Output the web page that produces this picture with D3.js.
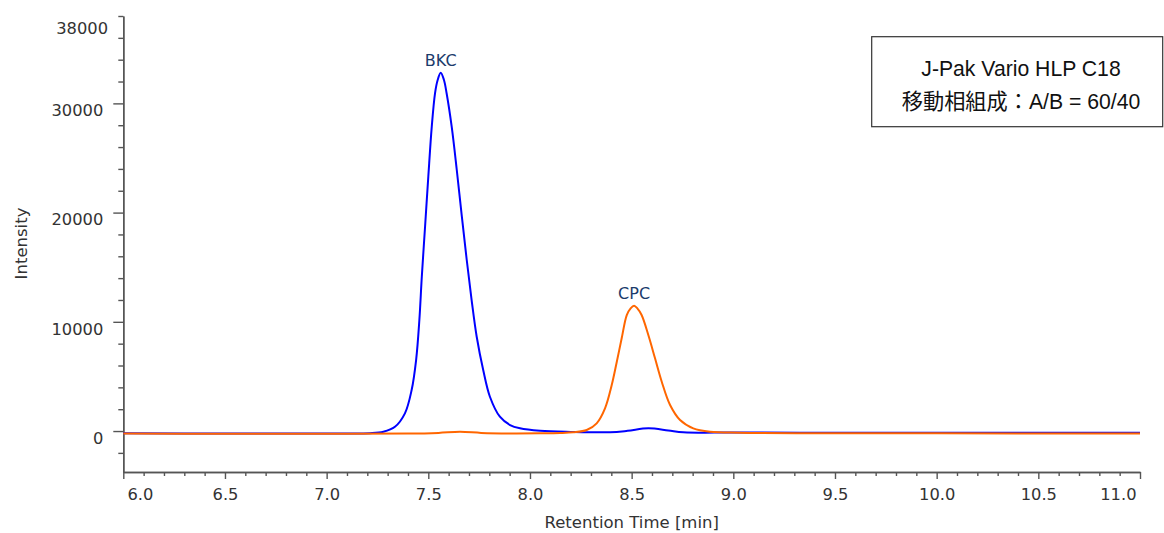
<!DOCTYPE html>
<html>
<head>
<meta charset="UTF-8">
<title>BKC / CPC chromatogram</title>
<script src="https://cdn.jsdelivr.net/npm/d3@7"></script>
<style>
body {
    margin: 0;
    background-color: #ffffff;
}
.tick text {
    font-family: "DejaVu Sans", Verdana, sans-serif;
    font-size: 16.3px;
    fill: #333333;
}
</style>
</head>
<body>
<svg id="chart" width="1164" height="533"></svg>
<script>
// values (time in min, intensity)
const bkcTime = [6.0, 6.5, 7.0, 7.213, 7.279, 7.336, 7.385, 7.418, 7.44, 7.456, 7.468, 7.484, 7.5, 7.517, 7.533, 7.546, 7.561, 7.577, 7.59, 7.615, 7.64, 7.665, 7.689, 7.713, 7.738, 7.77, 7.803, 7.852, 7.902, 7.951, 8.05, 8.2, 8.394, 8.48, 8.582, 8.68, 8.754, 9.0, 9.5, 10.0, 10.5, 11.0];
const bkcIntensity = [-210, -220, -215, -200, -64, 394, 1621, 3755, 6502, 10165, 14130, 18709, 23288, 27866, 30925, 32141, 32811, 32141, 30925, 27866, 23901, 19625, 15659, 11996, 8635, 5586, 3141, 1310, 549, 247, 20, -80, -110, 20, 247, 60, -110, -140, -150, -150, -155, -155];

const cpcTime = [6.0, 6.5, 7.0, 7.4, 7.55, 7.656, 7.76, 7.9, 8.05, 8.148, 8.213, 8.279, 8.328, 8.369, 8.402, 8.427, 8.451, 8.476, 8.495, 8.512, 8.528, 8.549, 8.582, 8.615, 8.648, 8.689, 8.738, 8.803, 8.885, 9.033, 9.5, 10.0, 10.5, 11.0];
const cpcIntensity = [-230, -240, -240, -235, -170, -64, -170, -220, -210, -183, -119, 92, 705, 2079, 4212, 6346, 8489, 10623, 11236, 11474, 11236, 10623, 8791, 6657, 4515, 2381, 1007, 247, -64, -156, -200, -210, -215, -220];

const xMajorTicks = [6.0, 6.5, 7.0, 7.5, 8.0, 8.5, 9.0, 9.5, 10.0, 10.5, 11.0];
const yMajorTicks = [0, 10000, 20000, 30000];
const yTopLabel = 38000;

const peakNames = ["BKC", "CPC"];
const peakTimes = [7.561, 8.512];
const peakHeights = [32811, 11474];

const legendLines = ["J-Pak Vario HLP C18", "移動相組成：A/B = 60/40"];

var svg = d3.select("#chart");

var x = d3.scaleLinear().domain([6.0, 11.0]).range([123.3, 1140]);
var y = d3.scaleLinear().domain([-3750, 38000]).range([472, 16]);

// minor ticks
var xMinor = d3.range(60, 111).map(function(d) { return d / 10; })
    .filter(function(d) { return Math.round(d * 10) % 5 != 0; });
var yMinor = d3.range(-2000, 38001, 2000)
    .filter(function(d) { return d % 10000 != 0; });

svg.append("g")
    .attr("class", "x-minor")
    .attr("transform", "translate(0,472)")
    .call(d3.axisBottom(x).tickValues(xMinor).tickSize(4).tickSizeOuter(0).tickFormat(""));

svg.append("g")
    .attr("class", "y-minor")
    .attr("transform", "translate(123.3,0)")
    .call(d3.axisLeft(y).tickValues(yMinor).tickSize(5).tickSizeOuter(0).tickFormat(""));

var gx = svg.append("g")
    .attr("class", "x-axis")
    .attr("transform", "translate(0,472)")
    .call(d3.axisBottom(x).tickValues(xMajorTicks).tickSize(7).tickSizeOuter(0).tickPadding(9.4)
        .tickFormat(d3.format(".1f")));

// first and last labels are pushed inside the axis
gx.selectAll(".tick text")
    .filter(function(d) { return d == xMajorTicks[0]; })
    .attr("text-anchor", "start").attr("x", 3.7);
gx.selectAll(".tick text")
    .filter(function(d) { return d == xMajorTicks[xMajorTicks.length - 1]; })
    .attr("text-anchor", "end").attr("x", -4);

var gy = svg.append("g")
    .attr("class", "y-axis")
    .attr("transform", "translate(123.3,0)")
    .call(d3.axisLeft(y).tickValues(yMajorTicks).tickSize(10).tickSizeOuter(0).tickPadding(10)
        .tickFormat(d3.format("d")));
gy.selectAll(".tick text").attr("dy", "0.75em");

gy.append("text")
    .attr("x", -15.3)
    .attr("y", y(yTopLabel) + 18)
    .attr("text-anchor", "end")
    .style("font-family", "'DejaVu Sans', Verdana, sans-serif")
    .style("font-size", "16.3px")
    .style("fill", "#333333")
    .text(yTopLabel);

svg.selectAll(".domain, .tick line")
    .attr("stroke", "#555555")
    .attr("stroke-width", 1.4);

// axis titles
svg.append("text")
    .attr("x", 631.7)
    .attr("y", 528)
    .attr("text-anchor", "middle")
    .style("font-family", "'DejaVu Sans', Verdana, sans-serif")
    .style("font-size", "16.5px")
    .style("fill", "#333333")
    .text("Retention Time [min]");

svg.append("text")
    .attr("transform", "translate(27,243.5) rotate(-90)")
    .attr("text-anchor", "middle")
    .style("font-family", "'DejaVu Sans', Verdana, sans-serif")
    .style("font-size", "16.5px")
    .style("fill", "#333333")
    .text("Intensity");

// traces
var line = d3.line()
    .x(function(d) { return x(d[0]); })
    .y(function(d) { return y(d[1]); })
    .curve(d3.curveCatmullRom.alpha(0.5));

svg.append("path")
    .datum(d3.zip(bkcTime, bkcIntensity))
    .attr("fill", "none")
    .attr("stroke", "#0000ff")
    .attr("stroke-width", 2)
    .attr("d", line);

svg.append("path")
    .datum(d3.zip(cpcTime, cpcIntensity))
    .attr("fill", "none")
    .attr("stroke", "#ff6600")
    .attr("stroke-width", 2)
    .attr("d", line);

// peak names
svg.selectAll(".peak-label")
    .data(peakNames)
    .enter().append("text")
    .attr("class", "peak-label")
    .attr("x", function(d, i) { return x(peakTimes[i]); })
    .attr("y", function(d, i) { return y(peakHeights[i]) - 6.5; })
    .attr("text-anchor", "middle")
    .style("font-family", "'DejaVu Sans', Verdana, sans-serif")
    .style("font-size", "16px")
    .style("fill", "#1b3b6b")
    .text(function(d) { return d; });

// condition box
svg.append("rect")
    .attr("x", 871.7)
    .attr("y", 36.7)
    .attr("width", 291)
    .attr("height", 90)
    .attr("fill", "#ffffff")
    .attr("stroke", "#333333")
    .attr("stroke-width", 1.2);

svg.selectAll(".legend-line")
    .data(legendLines)
    .enter().append("text")
    .attr("class", "legend-line")
    .attr("x", 1021)
    .attr("y", function(d, i) { return 76 + i * 33; })
    .attr("text-anchor", "middle")
    .style("font-family", "'Liberation Sans', Arial, 'Noto Sans CJK JP', sans-serif")
    .style("font-size", "21.2px")
    .style("fill", "#111111")
    .text(function(d) { return d; });
</script>
</body>
</html>
